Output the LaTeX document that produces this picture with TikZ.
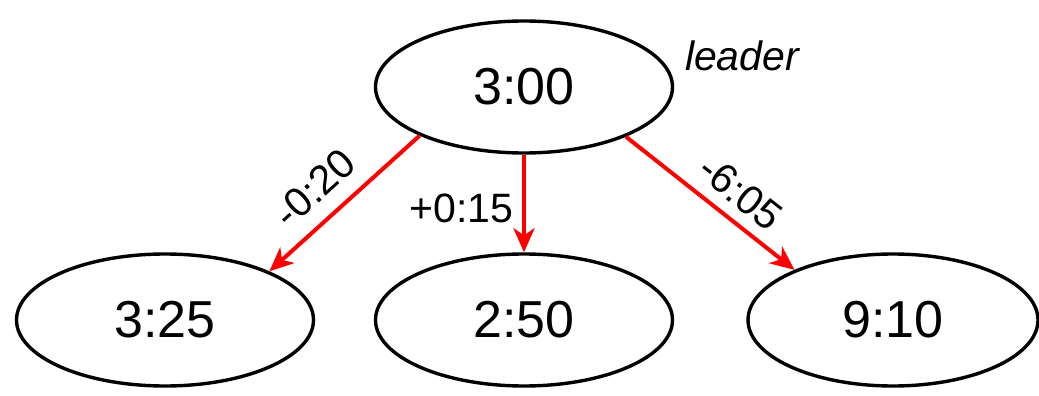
\documentclass[tikz,border=0pt]{standalone}
\usepackage{fontspec}
\setmainfont{Liberation Sans}
\usetikzlibrary{shapes.geometric,arrows.meta}
\begin{document}
\begin{tikzpicture}[x=1pt,y=-1pt,
  state/.style={draw=black,line width=3.4pt,ellipse,minimum width=297pt,minimum height=132pt,inner sep=0pt,font=\fontsize{52}{60}\selectfont},
  link/.style={draw=red,line width=4pt,-{Stealth[length=24pt,width=21pt,inset=7pt]}},
  lab/.style={font=\fontsize{41}{48}\selectfont,inner sep=2pt}]
\useasboundingbox (0,0) rectangle (1039,396);
\node[state] (top) at (524,87) {3:00};
\node[state] (l) at (165,320) {3:25};
\node[state] (m) at (524,320) {2:50};
\node[state,minimum width=290pt] (r) at (893,320) {9:10};
\node[lab,font=\fontsize{41}{48}\selectfont\itshape] (lead) at (742,56) {leader};
\draw[link] (top.205.7) -- node[lab,pos=0.56,sloped,above=13pt] (la) {-0:20} (l.25.9);
\draw[link] (top.south) -- node[lab,pos=0.55,left=7pt] (lb) {+0:15} (m.north);
\draw[link] (top.334.7) -- node[lab,pos=0.58,sloped,above=9pt] (lc) {-6:05} (r.153.2);
\end{tikzpicture}
\end{document}
